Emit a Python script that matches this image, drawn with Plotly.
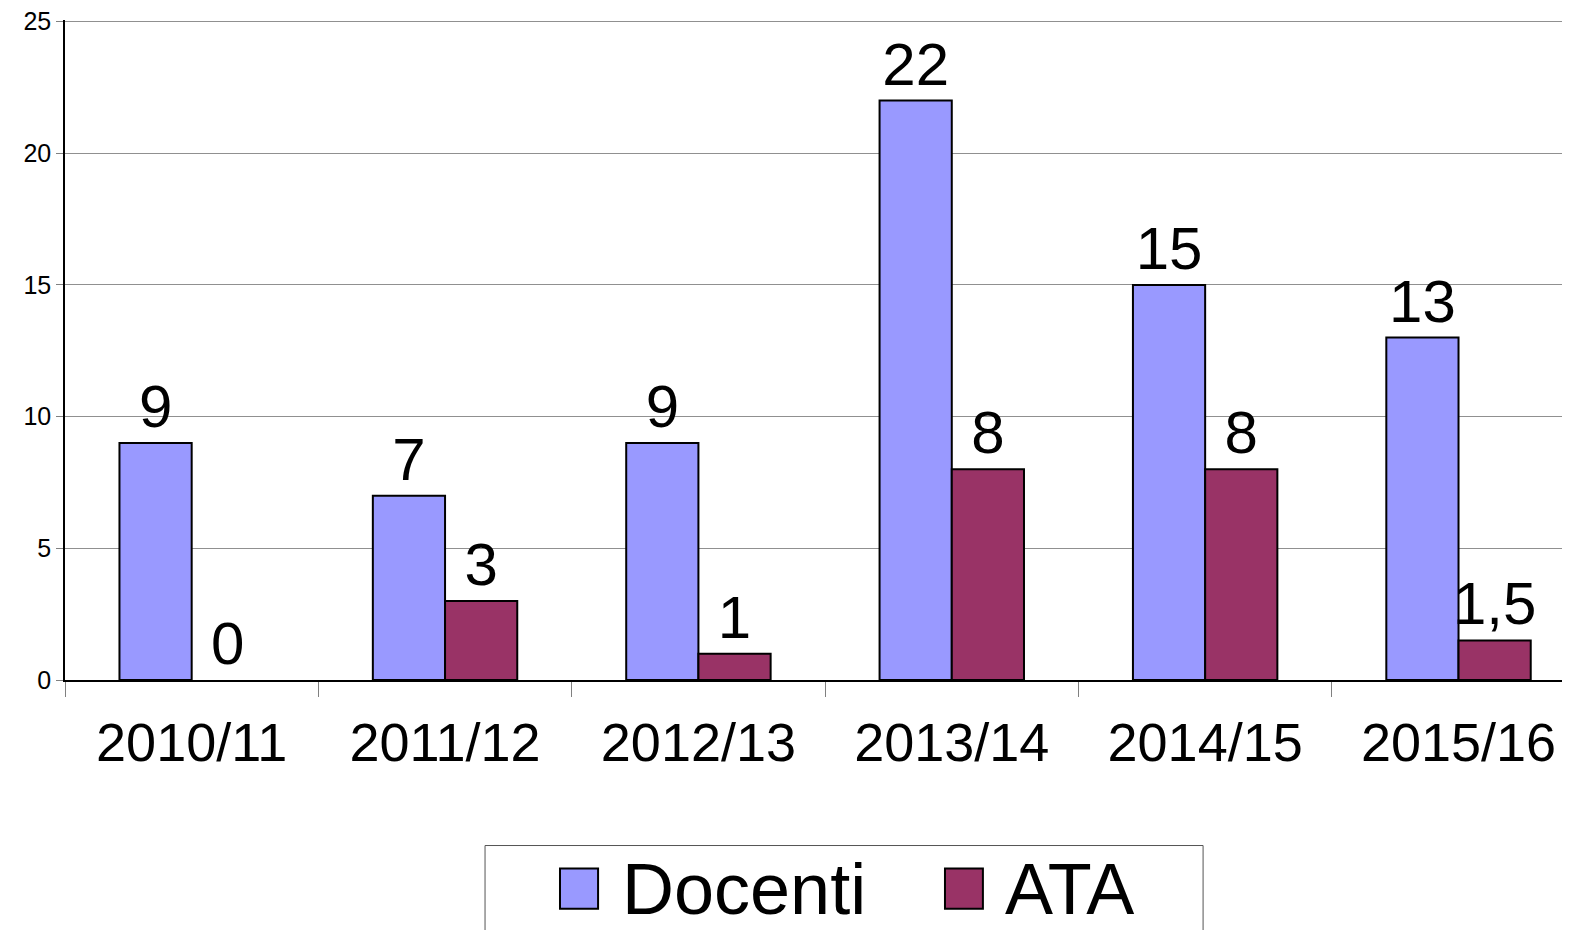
import plotly.graph_objects as go

# Dati
anni = ['2010/11', '2011/12', '2012/13', '2013/14', '2014/15', '2015/16']
docenti = [9, 7, 9, 22, 15, 13]
ata = [0, 3, 1, 8, 8, 1.5]
tick_y = [0, 5, 10, 15, 20, 25]

serie = [('Docenti', docenti, '#9999FF'), ('ATA', ata, '#993366')]

# posizione legenda (coordinate paper)
leg_box = dict(x0=0.2791, x1=0.7562, y0=-0.2508, y1=-0.45)
leg_sq = [(0.3289, 0.3542), (0.5847, 0.6099)]
leg_txt = [0.3688, 0.6233]

fig = go.Figure()

for nome, valori, colore in serie:
    fig.add_trace(go.Bar(
        x=anni, y=valori, name=nome,
        marker=dict(color=colore,
                    line=dict(color='black', width=[2 if v else 0 for v in valori])),
        texttemplate='%{y}', textposition='outside',
        textfont=dict(size=60, color='black'),
        constraintext='none', cliponaxis=False,
    ))

# legenda disegnata a mano (quadrati grandi come nell'originale)
fig.add_shape(type='rect', xref='paper', yref='paper', **leg_box,
              line=dict(color='#555555', width=1), fillcolor='white', layer='above')
for (nome, valori, colore), (sx0, sx1), tx in zip(serie, leg_sq, leg_txt):
    fig.add_shape(type='rect', xref='paper', yref='paper',
                  x0=sx0, x1=sx1, y0=-0.2857, y1=-0.3465,
                  line=dict(color='black', width=2), fillcolor=colore, layer='above')
    fig.add_annotation(text=nome, xref='paper', yref='paper', x=tx, y=-0.3161,
                       xanchor='left', yanchor='middle', showarrow=False,
                       font=dict(size=72, color='black'))

# la pagina ha un margine di 8px: la figura è un po' più piccola della finestra
fig.update_layout(
    width=1562, height=922,
    margin=dict(l=57, r=0, t=12.4, b=250, autoexpand=False),
    barmode='group', bargap=0.43, bargroupgap=0,
    separators=',.',
    paper_bgcolor='white', plot_bgcolor='white',
    font=dict(family='Arial, Liberation Sans, sans-serif', color='black'),
    showlegend=False,
)

fig.update_xaxes(
    range=[-0.5, 5.44], tickson='boundaries', ticks='outside', ticklen=15,
    tickcolor='#808080', tickfont=dict(size=54), ticklabelstandoff=14,
    showline=True, linecolor='black', linewidth=1.5, automargin=False,
)
fig.update_yaxes(
    range=[0, 25.06], tickmode='array', tickvals=tick_y,
    ticks='outside', ticklen=7, tickcolor='#808080', ticklabeloverflow='allow',
    tickfont=dict(size=25), showline=True, linecolor='black', linewidth=1.5,
    gridcolor='#909090', gridwidth=1, zeroline=False, automargin=False,
)

fig.write_html('out.html')
